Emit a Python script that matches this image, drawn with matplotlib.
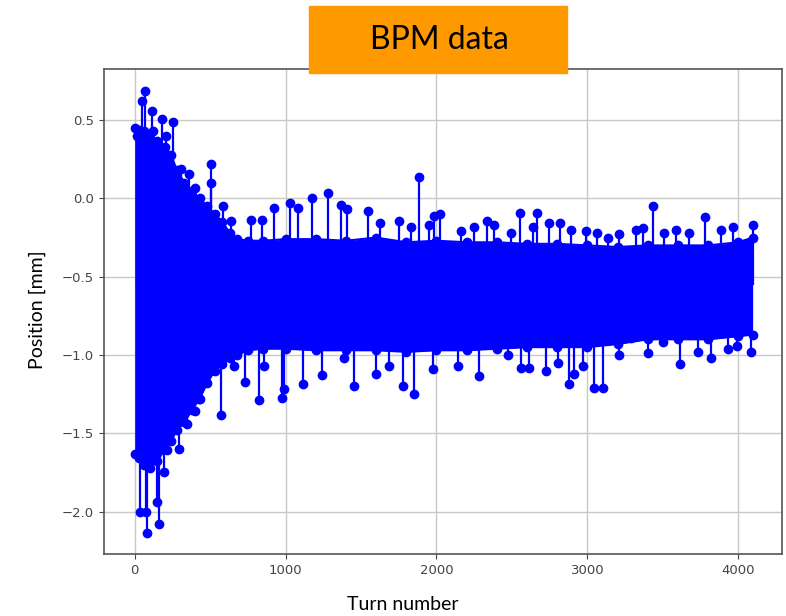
import numpy as np
import matplotlib
matplotlib.use("Agg")
import matplotlib.pyplot as plt
from matplotlib.patches import Rectangle

# solid core of the signal band (edges)
band_turn = [0, 30, 60, 100, 150, 200, 240, 280, 330, 380, 430, 480, 530, 580, 630,
             680, 750, 850, 1000, 1200, 1400, 1600, 1800, 2000, 2200, 2400, 2600,
             2800, 3000, 3200, 3400, 3600, 3800, 4000, 4095]
band_top = [0.45, 0.44, 0.43, 0.41, 0.37, 0.33, 0.28, 0.18, 0.10, 0.05, 0.00, -0.05,
            -0.10, -0.15, -0.22, -0.26, -0.27, -0.27, -0.26, -0.26, -0.27, -0.25,
            -0.28, -0.27, -0.28, -0.28, -0.29, -0.29, -0.30, -0.31, -0.30, -0.30,
            -0.30, -0.28, -0.25]
band_bot = [-1.63, -1.66, -1.70, -1.72, -1.68, -1.60, -1.55, -1.48, -1.43, -1.35,
            -1.28, -1.18, -1.10, -1.06, -1.02, -1.00, -0.97, -0.96, -0.96, -0.97,
            -0.97, -0.97, -0.98, -0.97, -0.97, -0.96, -0.95, -0.95, -0.95, -0.93,
            -0.90, -0.90, -0.90, -0.88, -0.87]

# isolated excursions above the band
up_turn = [18, 51, 66, 117, 124, 179, 205, 252, 305, 359, 399, 504, 504, 588, 637,
           769, 846, 920, 1028, 1079, 1172, 1282, 1366, 1406, 1543, 1626, 1753, 1830,
           1886, 1953, 1985, 2025, 2162, 2250, 2334, 2378, 2493, 2555, 2641, 2666,
           2748, 2820, 2891, 2990, 3064, 3134, 3212, 3322, 3366, 3435, 3510, 3588,
           3676, 3776, 3882, 3964, 4095]
up_val = [0.40, 0.62, 0.686, 0.56, 0.43, 0.51, 0.40, 0.486, 0.19, 0.156, 0.065, 0.22,
          0.10, -0.05, -0.146, -0.14, -0.14, -0.06, -0.03, -0.06, 0.0, 0.035, -0.04,
          -0.07, -0.08, -0.16, -0.146, -0.18, 0.137, -0.17, -0.11, -0.10, -0.21,
          -0.18, -0.146, -0.17, -0.22, -0.09, -0.18, -0.09, -0.16, -0.16, -0.20,
          -0.21, -0.22, -0.25, -0.23, -0.20, -0.19, -0.05, -0.22, -0.20, -0.22,
          -0.12, -0.20, -0.18, -0.17]

# isolated excursions below the band
dn_turn = [35, 73, 84, 146, 161, 195, 217, 294, 349, 399, 426, 459, 526, 570, 658,
           729, 824, 857, 979, 990, 1117, 1240, 1388, 1455, 1598, 1682, 1775, 1852,
           1974, 2144, 2283, 2471, 2560, 2615, 2725, 2805, 2880, 2913, 2969, 3046,
           3101, 3212, 3289, 3400, 3499, 3614, 3731, 3820, 3930, 3993, 4085]
dn_val = [-2.0, -2.0, -2.14, -1.94, -2.08, -1.75, -1.61, -1.60, -1.44, -1.36, -1.28,
          -1.18, -1.07, -1.385, -1.07, -1.17, -1.29, -1.07, -1.275, -1.22, -1.185,
          -1.13, -1.02, -1.2, -1.12, -1.07, -1.2, -1.25, -1.09, -1.07, -1.135, -1.0,
          -1.08, -1.08, -1.10, -1.05, -1.185, -1.12, -1.07, -1.21, -1.21, -1.0,
          -0.89, -0.99, -0.92, -1.06, -0.98, -1.02, -0.96, -0.94, -0.98]

mean_pos = -0.55
blue = "#0000ff"

fig = plt.figure(figsize=(7.86, 6.16), dpi=100)
ax = fig.add_axes([0.132, 0.101, 0.863, 0.7865])

ax.fill_between(band_turn, band_bot, band_top, color=blue, lw=0)
ax.plot(band_turn, band_top, "o-", color=blue, ms=6, lw=1.5)
ax.plot(band_turn, band_bot, "o-", color=blue, ms=6, lw=1.5)
ax.vlines(up_turn, mean_pos, up_val, color=blue, lw=1.6)
ax.vlines(dn_turn, mean_pos, dn_val, color=blue, lw=1.6)
ax.plot(up_turn, up_val, "o", color=blue, ms=6)
ax.plot(dn_turn, dn_val, "o", color=blue, ms=6)

ax.set_xlim(-205, 4290)
ax.set_ylim(-2.27, 0.825)
ax.set_xticks([0, 1000, 2000, 3000, 4000])
ax.set_yticks([-2.0, -1.5, -1.0, -0.5, 0.0, 0.5])
ax.grid(True, color="#c8c8c8", lw=1)
ax.set_axisbelow(True)
ax.tick_params(labelsize=9.5, colors="#444444")
for s in ax.spines.values():
    s.set_color("#555555")
    s.set_linewidth(1.2)

fig.text(0.513, 0.019, "Turn number", ha="center", va="center",
         fontsize=14, family="Lato")
fig.text(0.047, 0.497, "Position [mm]", ha="center", va="center",
         rotation=90, fontsize=14, family="Lato")

# orange title box
fig.patches.append(Rectangle((309 / 786, 1 - 73 / 616), 258 / 786, 67 / 616,
                             transform=fig.transFigure, color="#ff9900", zorder=5))
fig.text(439 / 786, 1 - 40 / 616, "BPM data", ha="center", va="center",
         fontsize=23, family="Lato", zorder=6)

fig.savefig("out.png", dpi=100)
